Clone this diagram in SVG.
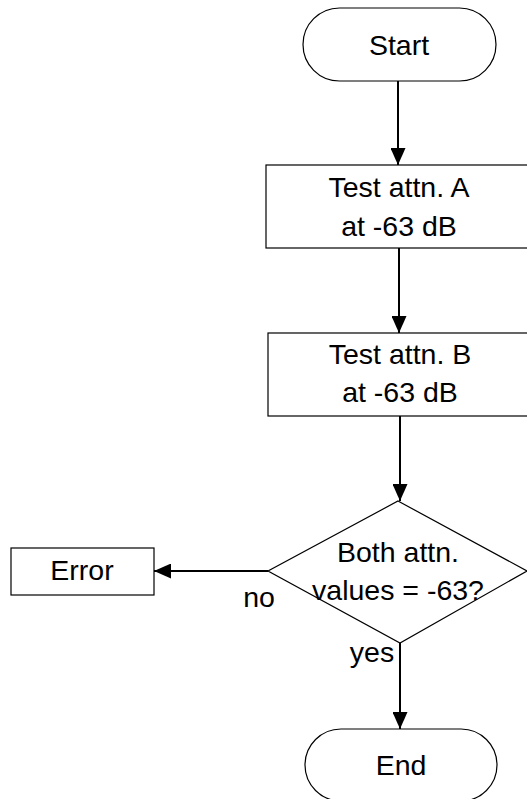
<svg xmlns="http://www.w3.org/2000/svg" width="527" height="799" viewBox="0 0 527 799">
<style>
.shape{fill:#fff;stroke:#000;stroke-width:1.2}
.conn{stroke:#000;stroke-width:2;fill:none}
text{font-family:"Liberation Sans",Arial,sans-serif;font-size:28.5px;fill:#000;text-anchor:middle}
</style>
<defs>
<marker id="ah" markerWidth="17" markerHeight="15" refX="17" refY="7.5" orient="auto" markerUnits="userSpaceOnUse">
<path d="M0,0 L17,7.5 L0,15 Z" fill="#000"/>
</marker>
</defs>
<rect width="527" height="799" fill="#fff"/>
<g id="connectors">
<line class="conn" x1="398" y1="81" x2="398" y2="165" marker-end="url(#ah)"/>
<line class="conn" x1="399" y1="248" x2="399" y2="333" marker-end="url(#ah)"/>
<line class="conn" x1="400" y1="416" x2="400" y2="501" marker-end="url(#ah)"/>
<line class="conn" x1="268" y1="571" x2="154" y2="571" marker-end="url(#ah)"/>
<line class="conn" x1="400" y1="643" x2="400" y2="729" marker-end="url(#ah)"/>
<text x="259" y="607">no</text>
<text x="372" y="662">yes</text>
</g>
<g id="start">
<rect class="shape" x="303" y="8" width="193" height="73" rx="36.5"/>
<text x="399" y="55">Start</text>
</g>
<g id="testA">
<rect class="shape" x="266" y="165" width="265" height="83"/>
<text x="399" y="197">Test attn. A</text>
<text x="399" y="236">at -63 dB</text>
</g>
<g id="testB">
<rect class="shape" x="268" y="333" width="265" height="83"/>
<text x="400" y="364">Test attn. B</text>
<text x="400" y="402">at -63 dB</text>
</g>
<g id="decision">
<polygon class="shape" points="398,501 527,571 400,643 268,571"/>
<text x="398" y="562">Both attn.</text>
<text x="398" y="600">values = -63?</text>
</g>
<g id="error">
<rect class="shape" x="11" y="548" width="143" height="47"/>
<text x="82" y="580">Error</text>
</g>
<g id="end">
<rect class="shape" x="305" y="729" width="192" height="72" rx="36"/>
<text x="401" y="775">End</text>
</g>
</svg>
